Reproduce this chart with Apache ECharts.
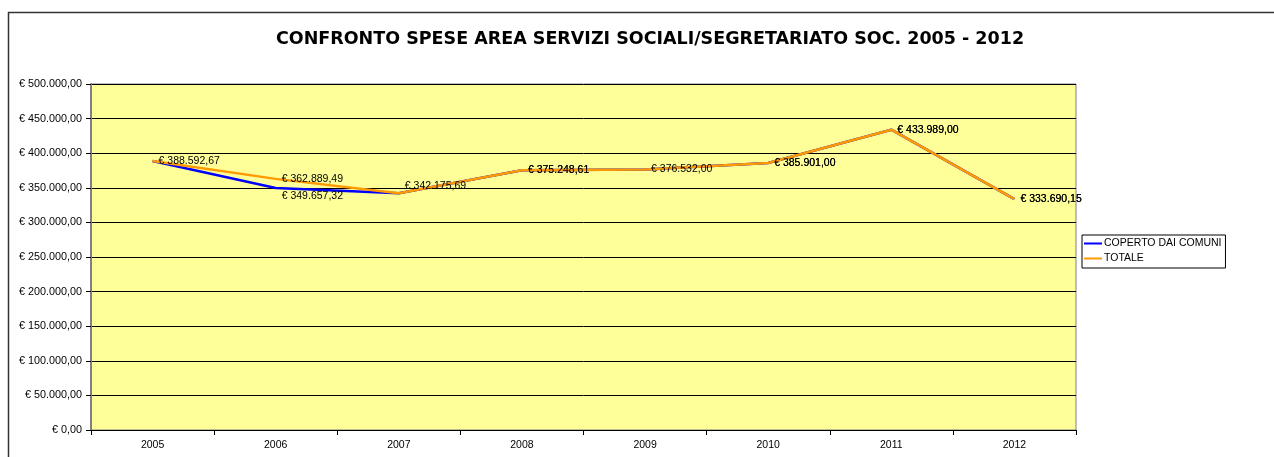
<!DOCTYPE html>
<html>
<head>
<meta charset="utf-8">
<script src="https://cdn.jsdelivr.net/npm/echarts@6/dist/echarts.min.js"></script>
<style>
  html, body { margin: 0; padding: 0; background: #fff; }
  #chart { width: 1274px; height: 457px; }
</style>
</head>
<body>
<div id="chart"></div>
<script>
const anni = ["2005", "2006", "2007", "2008", "2009", "2010", "2011", "2012"];
const copertoDaiComuni = [388592.67, 349657.32, 342175.69, 375248.61, 376532.0, 385901.0, 433989.0, 333690.15];
const totale = [388592.67, 362889.49, 342175.69, 375248.61, 376532.0, 385901.0, 433989.0, 333690.15];

const FONT = "Liberation Sans, Arial, sans-serif";

// formato euro all'italiana: € 1.234,56
function euro(v) {
  const parts = Number(v).toFixed(2).split(".");
  const intero = parts[0].replace(/\B(?=(\d{3})+(?!\d))/g, ".");
  return "€ " + intero + "," + parts[1];
}

// etichette: qualche punto spostato come nel grafico originale
function conEtichette(valori, nascoste) {
  return valori.map((v, i) => {
    if (nascoste.indexOf(i) >= 0) return { value: v, label: { show: false } };
    if (i === 1 && valori === copertoDaiComuni) return { value: v, label: { offset: [0, 8] } };
    if (i === 2) return { value: v, label: { offset: [0, -7] } };
    return v;
  });
}

const chart = echarts.init(document.getElementById("chart"));

const etichetta = {
  show: true,
  position: "right",
  distance: 6,
  fontSize: 10.5,
  color: "#000",
  fontFamily: FONT,
  formatter: (p) => euro(p.value),
};

chart.setOption({
  animation: false,
  textStyle: { fontFamily: FONT },
  graphic: [
    {
      type: "rect",
      shape: { x: 8.5, y: 12.5, width: 1400, height: 600 },
      style: { fill: "none", stroke: "#333", lineWidth: 1.5 },
      silent: true,
      z: -10,
    },
  ],
  title: {
    text: "CONFRONTO SPESE AREA SERVIZI SOCIALI/SEGRETARIATO SOC. 2005 - 2012",
    left: 645,
    textAlign: "center",
    top: 25,
    textStyle: { fontSize: 17.5, fontWeight: "bold", color: "#000", fontFamily: "DejaVu Sans, Verdana, sans-serif" },
  },
  legend: {
    left: 1082,
    top: 235,
    orient: "vertical",
    borderColor: "#000",
    borderWidth: 1,
    padding: [2, 4, 3, 2],
    itemGap: 2,
    itemWidth: 18,
    itemHeight: 2,
    icon: "rect",
    textStyle: { fontSize: 10.5, color: "#000", padding: [0, 0, 0, -3], lineHeight: 13 },
    data: ["COPERTO DAI COMUNI", "TOTALE"],
  },
  grid: {
    left: 91,
    right: 198,
    top: 84,
    bottom: 27,
    show: true,
    backgroundColor: "#FFFF99",
    borderColor: "#808080",
    borderWidth: 1,
  },
  xAxis: {
    type: "category",
    data: anni,
    boundaryGap: true,
    axisLine: { lineStyle: { color: "#000", width: 1 } },
    axisTick: { show: true, length: 5, lineStyle: { color: "#000" } },
    axisLabel: { fontSize: 10.5, color: "#000", margin: 10 },
  },
  yAxis: {
    type: "value",
    min: 0,
    max: 500000,
    interval: 50000,
    axisLine: { show: true, lineStyle: { color: "#808080", width: 2 } },
    axisTick: { show: true, length: 5, lineStyle: { color: "#000" } },
    axisLabel: { fontSize: 10.8, color: "#000", margin: 9, formatter: euro },
    splitLine: { lineStyle: { color: "#000", width: 1 } },
  },
  series: [
    {
      name: "COPERTO DAI COMUNI",
      type: "line",
      data: conEtichette(copertoDaiComuni, [0, 2, 4]),
      color: "#0000FF",
      symbol: "circle",
      symbolSize: 0,
      lineStyle: { width: 2.5, color: "#0000FF" },
      label: etichetta,
      z: 2,
    },
    {
      name: "TOTALE",
      type: "line",
      data: conEtichette(totale, []),
      color: "#FF9900",
      symbol: "circle",
      symbolSize: 0,
      lineStyle: { width: 2.5, color: "#FF9900" },
      label: etichetta,
      z: 3,
    },
  ],
});

window.addEventListener("resize", () => {
  chart.resize();
});
</script>
</body>
</html>
